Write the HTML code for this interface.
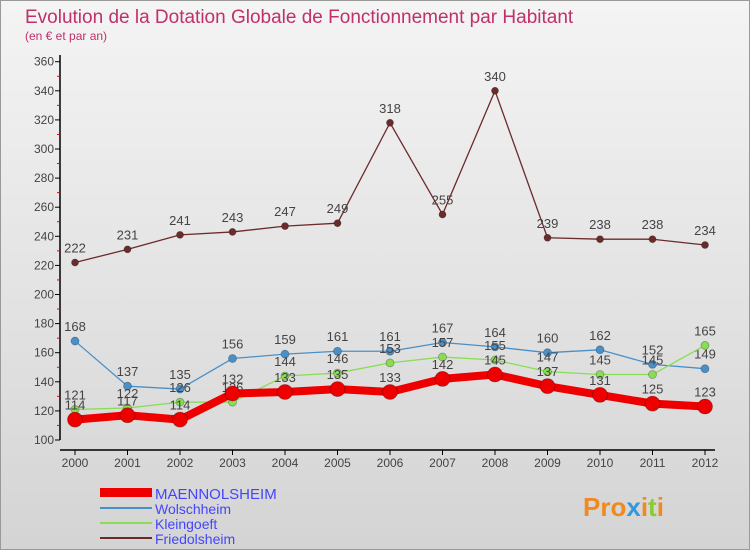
<!DOCTYPE html>
<html><head><meta charset="utf-8"><style>
body{margin:0;width:750px;height:550px;overflow:hidden;font-family:"Liberation Sans",sans-serif}
</style></head><body>
<svg width="750" height="550" xmlns="http://www.w3.org/2000/svg">
<defs><linearGradient id="bg" x1="0" y1="0" x2="0" y2="1"><stop offset="0" stop-color="#f4f4f4"/><stop offset="1" stop-color="#d4d4d4"/></linearGradient></defs>
<rect x="0.5" y="0.5" width="749" height="549" fill="url(#bg)" stroke="#999"/>
<text x="25" y="23" font-size="19" font-weight="normal" fill="#c0306a">Evolution de la Dotation Globale de Fonctionnement par Habitant</text>
<text x="25" y="40" font-size="12" fill="#c0306a">(en € et par an)</text>
<g id="axes"></g>
<g id="series"></g>
<g>
<rect x="100" y="488" width="52" height="9" fill="#e00"/>
<text x="155" y="499" font-size="15" fill="#44f">MAENNOLSHEIM</text>
<rect x="100" y="507" width="52" height="2" fill="#4a90c8"/>
<text x="155" y="514" font-size="14" fill="#44f">Wolschheim</text>
<rect x="100" y="522" width="52" height="2" fill="#88dd55"/>
<text x="155" y="529" font-size="14" fill="#44f">Kleingoeft</text>
<rect x="100" y="537" width="52" height="2" fill="#6b2b2b"/>
<text x="155" y="544" font-size="14" fill="#44f">Friedolsheim</text>
</g>
<text x="583" y="516" font-size="26" font-weight="bold" fill="#f08a20">Pro<tspan fill="#3399dd">x</tspan>i<tspan fill="#88cc33">t</tspan>i</text>
<script>
const years=[2000,2001,2002,2003,2004,2005,2006,2007,2008,2009,2010,2011,2012];
const yTicks=[100,120,140,160,180,200,220,240,260,280,300,320,340,360];
const friedolsheim=[222,231,241,243,247,249,318,255,340,239,238,238,234];
const wolschheim=[168,137,135,156,159,161,161,167,164,160,162,152,149];
const kleingoeft=[121,122,126,126,144,146,153,157,155,147,145,145,165];
const maennolsheim=[114,117,114,132,133,135,133,142,145,137,131,125,123];
const NS="http://www.w3.org/2000/svg";
const X=i=>75+i*52.5;
const Y=v=>440-(v-100)*1.455;
function mk(t,a,p){const e=document.createElementNS(NS,t);for(const k in a)e.setAttribute(k,a[k]);p.appendChild(e);return e;}
const ax=document.getElementById('axes');
let l=mk('line',{x1:60,y1:55,x2:60,y2:440,stroke:'#000','stroke-width':1.5},ax);


l=mk('line',{x1:60,y1:450,x2:715,y2:450,stroke:'#000','stroke-width':1.5},ax);


yTicks.forEach(v=>{
 mk('line',{x1:55,y1:Y(v),x2:60,y2:Y(v),stroke:'#000'},ax);
 if(v<360) mk('line',{x1:57,y1:Y(v+10),x2:60,y2:Y(v+10),stroke:'#e00'},ax);
 const t=mk('text',{x:54,y:Y(v)+4,'font-size':12,fill:'#444','text-anchor':'end'},ax);
 t.textContent=v;
 
 
});
years.forEach((y,i)=>{
 mk('line',{x1:X(i),y1:450,x2:X(i),y2:455,stroke:'#000'},ax);
 const t=mk('text',{x:X(i),y:467,'font-size':12,fill:'#444','text-anchor':'middle'},ax);
 t.textContent=y;
 
 
});
const sg=document.getElementById('series');
function series(name,data,color,w,r){
 const g=mk('g',{},sg);
 
 
 const p=mk('polyline',{points:data.map((v,i)=>X(i)+','+Y(v)).join(' '),fill:'none',stroke:color,'stroke-width':w,'stroke-linejoin':'round'},g);
 
 
 data.forEach((v,i)=>{
  const c=mk('circle',{cx:X(i),cy:Y(v),r:r,fill:color,stroke:'rgba(0,0,0,0.3)','stroke-width':0.8},g);
  
  
  const t=mk('text',{x:X(i),y:Y(v)-10,'font-size':13,fill:'#444','text-anchor':'middle'},g);
  t.textContent=v;
  
  
 });
}
series('friedolsheim',friedolsheim,'#6b2b2b',1.3,3.5);
series('wolschheim',wolschheim,'#4a90c8',1.3,4);
series('kleingoeft',kleingoeft,'#88dd55',1.3,4);
series('maennolsheim',maennolsheim,'#ee0000',8,7.5);
</script>
</svg>
</body></html>
